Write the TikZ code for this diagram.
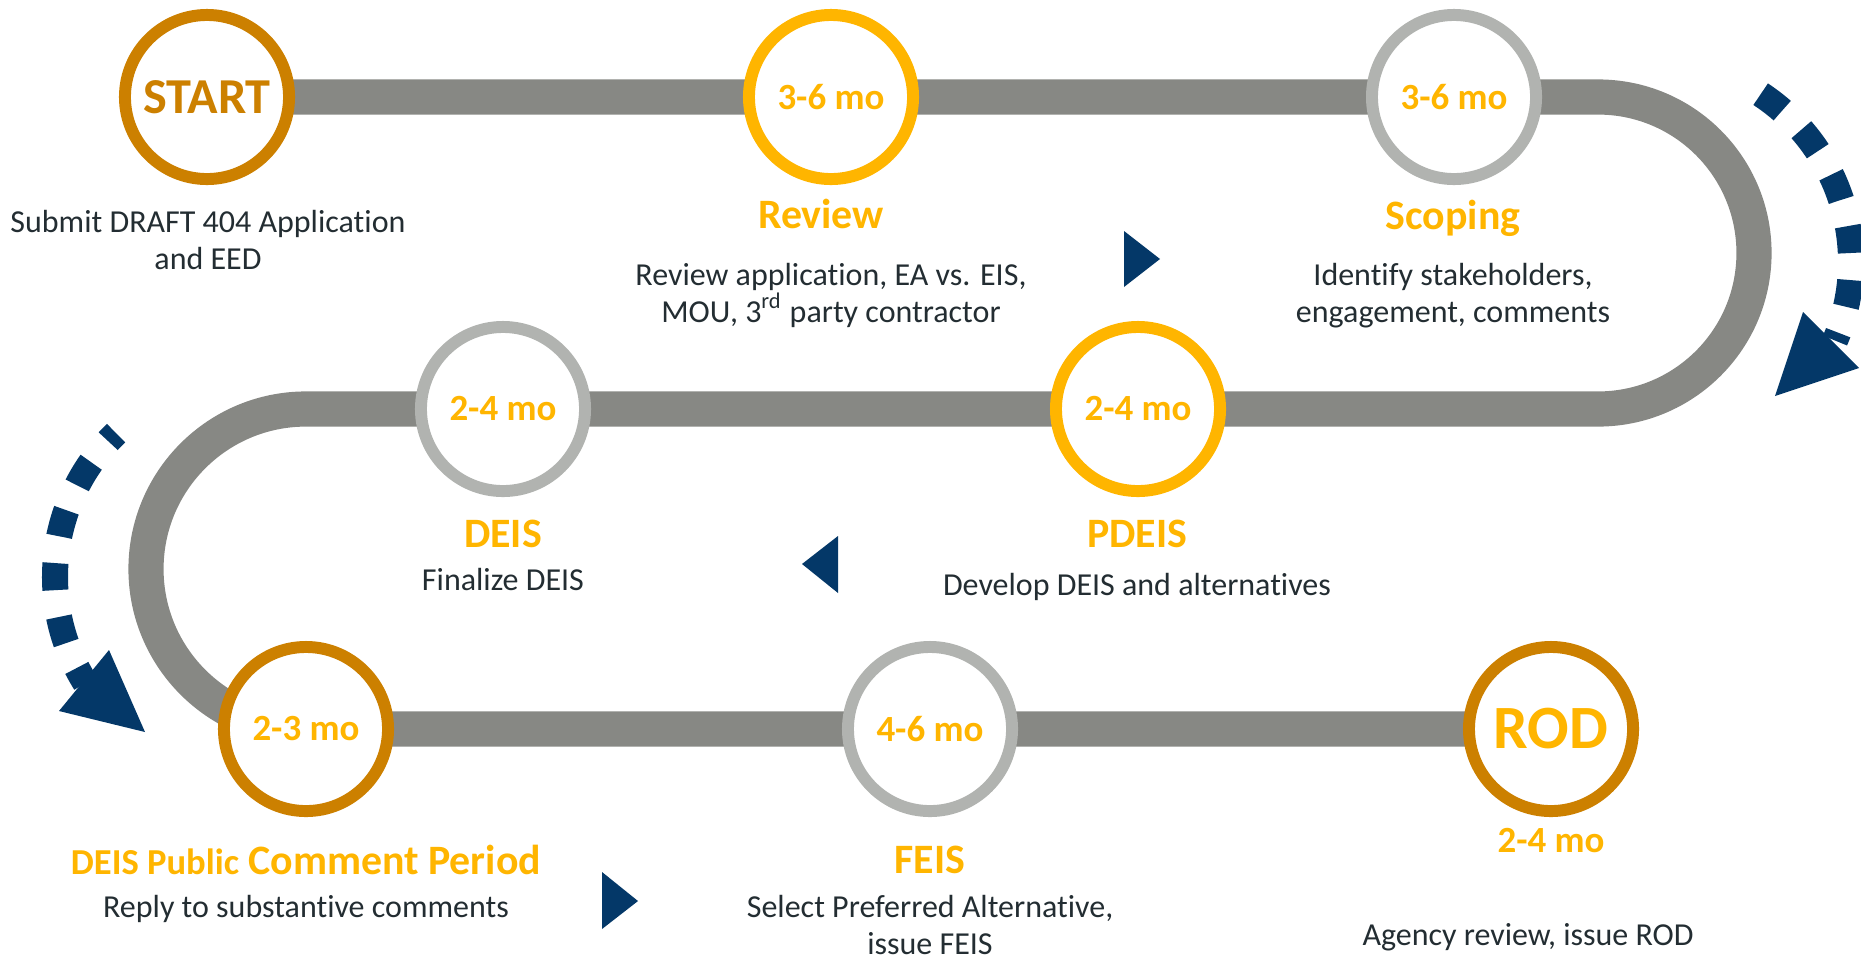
\documentclass[tikz,border=0pt]{standalone}
\usepackage{fontspec}
\setmainfont{Carlito}[Ligatures=NoCommon]
\usetikzlibrary{backgrounds}

\definecolor{darkgold}{RGB}{204,128,0}
\definecolor{gold}{RGB}{255,181,0}
\definecolor{ringgray}{RGB}{177,179,176}
\definecolor{trackgray}{RGB}{135,136,132}
\definecolor{navy}{RGB}{4,56,104}
\definecolor{inkdark}{RGB}{35,45,50}

\newcommand{\durfont}{\fontsize{10.5}{12}\selectfont\bfseries}

\tikzset{
    ring/.style={circle, draw, line width=3.4pt, fill=white, minimum size=1.64cm,
        inner sep=0pt, text=gold, font=\durfont},
    darkring/.style={ring, draw=darkgold},
    goldring/.style={ring, draw=gold},
    grayring/.style={ring, draw=ringgray},
    track/.style={draw=trackgray, line width=10pt},
    head/.style={text=gold, inner sep=0pt, anchor=base, font=\fontsize{11.9}{13}\selectfont\bfseries},
    desc/.style={text=inkdark, inner sep=0pt, anchor=base, align=center, font=\fontsize{9.1}{10.5}\selectfont},
    turnarrow/.style={draw=navy, line width=7.4pt, dash pattern=on 7.7pt off 7.7pt},
}

\begin{document}
\begin{tikzpicture}[x=0.01cm, y=0.01cm]
    \useasboundingbox (0,0) rectangle (1861,959);

    \node[darkring, text=darkgold, font=\fontsize{14.3}{16}\selectfont\bfseries] (start) at (207,862) {START};
    \node[goldring] (review) at (831,862) {3-6 mo};
    \node[grayring] (scoping) at (1454,862) {3-6 mo};
    \node[goldring] (pdeis) at (1138,550) {2-4 mo};
    \node[grayring] (deis) at (503,550) {2-4 mo};
    \node[darkring] (comment) at (306,230) {2-3 mo};
    \node[grayring] (feis) at (930,230) {4-6 mo};
    \node[darkring, font=\fontsize{17.5}{19}\selectfont\bfseries] (rod) at (1551,230) {ROD};

    \coordinate (bendR) at (1598,862);
    \coordinate (bendL) at (306,550);
    \coordinate (loopR) at (1650,697);
    \coordinate (loopL) at (255,382);

    \begin{scope}[on background layer]
        \draw[track] (start.center) -- (bendR)
            arc[start angle=90, end angle=-90, radius=156] -- (bendL)
            arc[start angle=90, end angle=270, radius=160] -- (rod.center);
    \end{scope}

    \node[desc] (startdesc) at (208,690) {Submit DRAFT 404 Application\\and EED};
    \node[head] (reviewhead) at (821,731) {Review};
    \node[desc] (reviewdesc) at (831,637) {Review application, EA vs. EIS,\\MOU, 3\textsuperscript{rd} party contractor};
    \node[head] (scopinghead) at (1453,730) {Scoping};
    \node[desc] (scopingdesc) at (1453,637) {Identify stakeholders,\\engagement, comments};
    \node[head] (pdeishead) at (1137,412) {PDEIS};
    \node[desc] (pdeisdesc) at (1137,364) {Develop DEIS and alternatives};
    \node[head] (deishead) at (503,412) {DEIS};
    \node[desc] (deisdesc) at (503,369) {Finalize DEIS};
    \node[head] (commenthead) at (306,85) {{\fontsize{10.4}{12}\selectfont DEIS Public} Comment Period};
    \node[desc] (commentdesc) at (306,42) {Reply to substantive comments};
    \node[head] (feishead) at (930,86) {FEIS};
    \node[desc] (feisdesc) at (930,5) {Select Preferred Alternative,\\issue FEIS};
    \node[head, font=\durfont] (rodtime) at (1551,107) {2-4 mo};
    \node[desc] (roddesc) at (1528,14) {Agency review, issue ROD};

    \draw[turnarrow] (loopR) ++(56.6:201) arc[start angle=56.6, end angle=-23, radius=201];
    \fill[navy] (1803,647) -- (1775,563) -- (1859,591) -- cycle;
    \draw[turnarrow, dash phase=4.5pt] (loopL) ++(134:200) arc[start angle=134, end angle=212, radius=200];
    \fill[navy] (109,309) -- (145,227) -- (59,248) -- cycle;

    \fill[navy]
        (1124,728) -- (1160,700) -- (1124,672) -- cycle
        (838,423) -- (802,395) -- (838,366) -- cycle
        (602,87) -- (638,58) -- (602,30) -- cycle
        ;
\end{tikzpicture}
\end{document}
